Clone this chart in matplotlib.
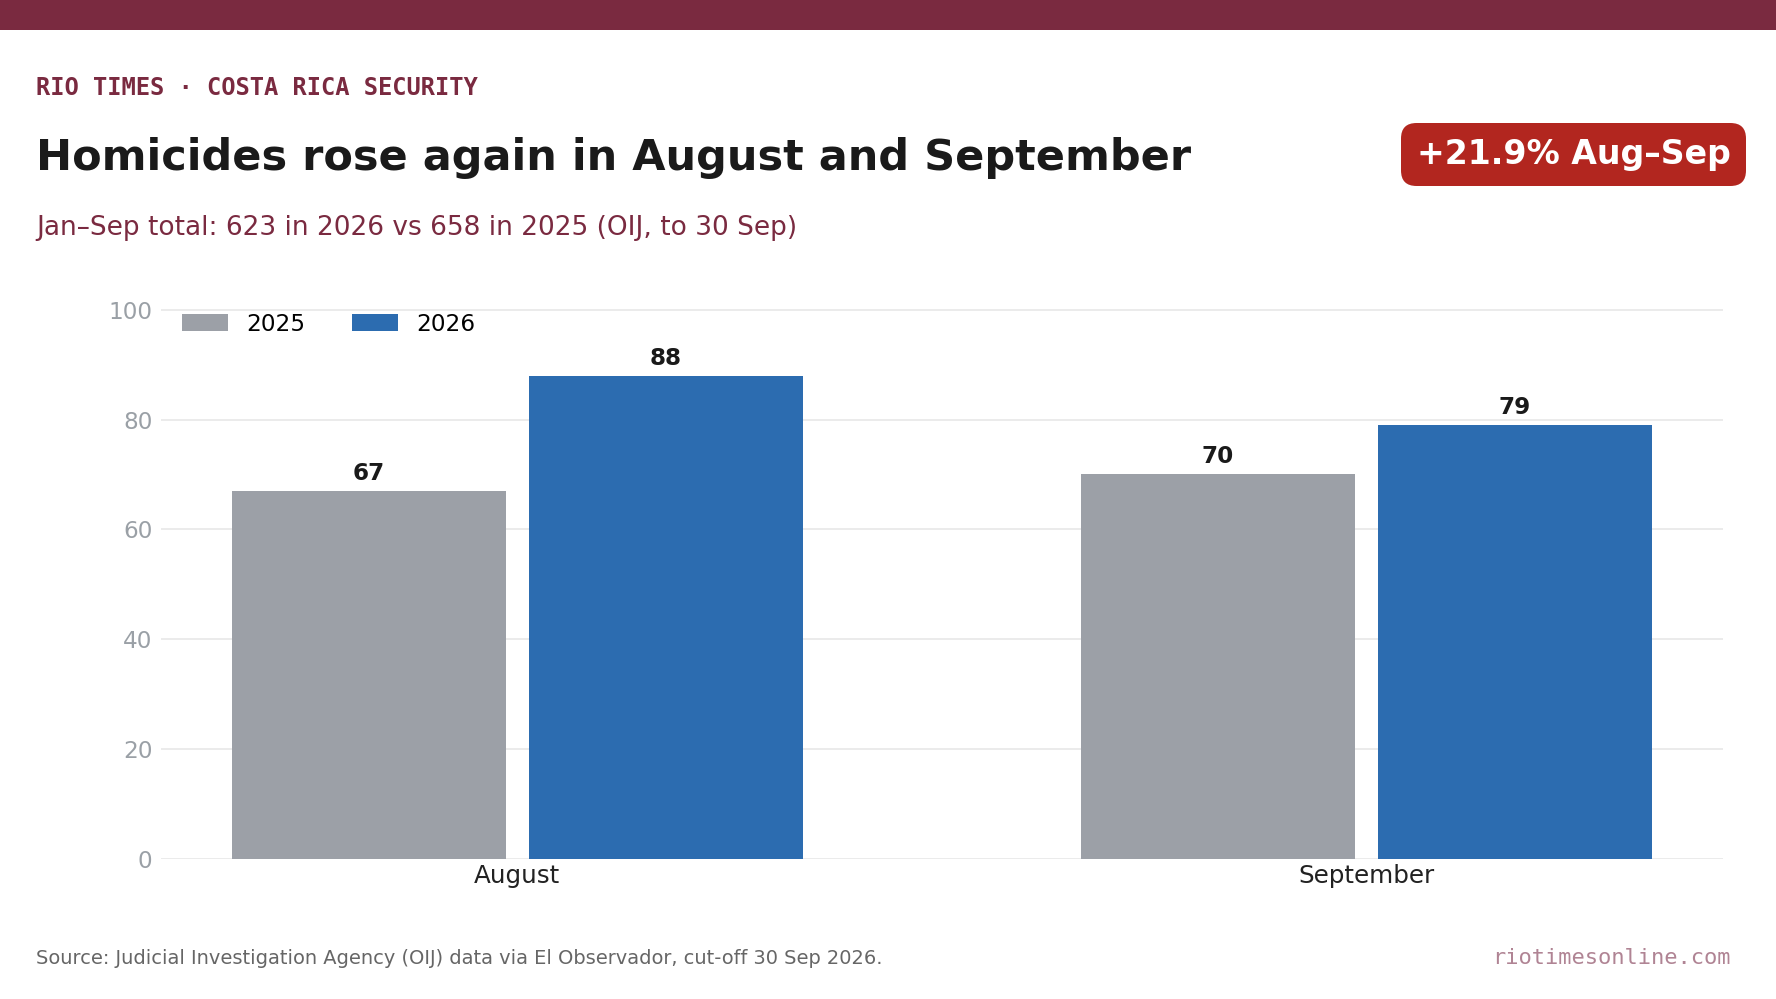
import numpy as np
import matplotlib
matplotlib.use("Agg")
import matplotlib.pyplot as plt
from matplotlib.patches import Rectangle, FancyBboxPatch

months = ["August", "September"]
years = ["2025", "2026"]
vals_2025 = [67, 70]
vals_2026 = [88, 79]

c_2025 = "#9ca0a7"
c_2026 = "#2c6cb0"
maroon = "#7a2a40"

plt.rcParams["font.family"] = "DejaVu Sans"

fig = plt.figure(figsize=(16, 9), dpi=111)
fig.patch.set_facecolor("white")

# top band
fig.add_artist(Rectangle((0, 1 - 29.5 / 999), 1, 29.5 / 999, transform=fig.transFigure,
                         color=maroon, lw=0, zorder=0))

fig.text(36 / 1776, 1 - 88 / 999, "RIO TIMES · COSTA RICA SECURITY", family="DejaVu Sans Mono",
         fontsize=15.4, fontweight="bold", color=maroon, va="center", ha="left")
fig.text(36 / 1776, 1 - 158 / 999, "Homicides rose again in August and September",
         fontsize=27.9, fontweight="bold", color="#1a1a1a", va="center", ha="left")
fig.text(36 / 1776, 1 - 228 / 999, "Jan–Sep total: 623 in 2026 vs 658 in 2025 (OIJ, to 30 Sep)",
         fontsize=17.1, color=maroon, va="center", ha="left")

# badge (drawn in inches so the corners stay round)
badge = FancyBboxPatch((1401 / 111, (999 - 186) / 111), 345 / 111, 63 / 111,
                       boxstyle="round,pad=0,rounding_size=0.14",
                       transform=fig.dpi_scale_trans, fc="#b2261f", ec="none")
fig.add_artist(badge)
fig.text(1574 / 1776, 1 - 164 / 999, "+21.9% Aug–Sep", fontsize=21.5, fontweight="bold",
         color="white", va="baseline", ha="center")

ax = fig.add_axes([160.8 / 1776, 1 - 858.6 / 999, (1723 - 160.8) / 1776, (858.6 - 289) / 999])
x = np.arange(len(months))
w = 0.3225
off = 0.175
b1 = ax.bar(x - off, vals_2025, w, color=c_2025, label=years[0], zorder=2)
b2 = ax.bar(x + off, vals_2026, w, color=c_2026, label=years[1], zorder=2)
for bars in (b1, b2):
    ax.bar_label(bars, padding=4, fontsize=15, fontweight="bold", color="#1a1a1a")

ax.set_xlim(-0.42, 1.42)
ax.set_ylim(0, 103.8)
ax.set_yticks([0, 20, 40, 60, 80, 100])
ax.set_xticks(x)
ax.set_xticklabels(months)
ax.tick_params(axis="y", length=0, pad=5.5, labelsize=15, labelcolor="#9aa0a6")
ax.tick_params(axis="x", length=0, pad=3.5, labelsize=16, labelcolor="#222222")
ax.grid(axis="y", color="#e6e6e6", lw=1, zorder=0)
ax.set_axisbelow(True)
for s in ax.spines.values():
    s.set_visible(False)

ax.legend(loc="upper left", ncol=2, frameon=False, fontsize=15,
          bbox_to_anchor=(0, 0.995))

fig.text(36 / 1776, 1 - 958 / 999,
         "Source: Judicial Investigation Agency (OIJ) data via El Observador, cut-off 30 Sep 2026.",
         fontsize=12.6, color="#666666", va="center", ha="left")
fig.text(1731 / 1776, 1 - 958 / 999, "riotimesonline.com", family="DejaVu Sans Mono",
         fontsize=14.3, color="#b08494", va="center", ha="right")

fig.savefig("out.png", dpi=111)
